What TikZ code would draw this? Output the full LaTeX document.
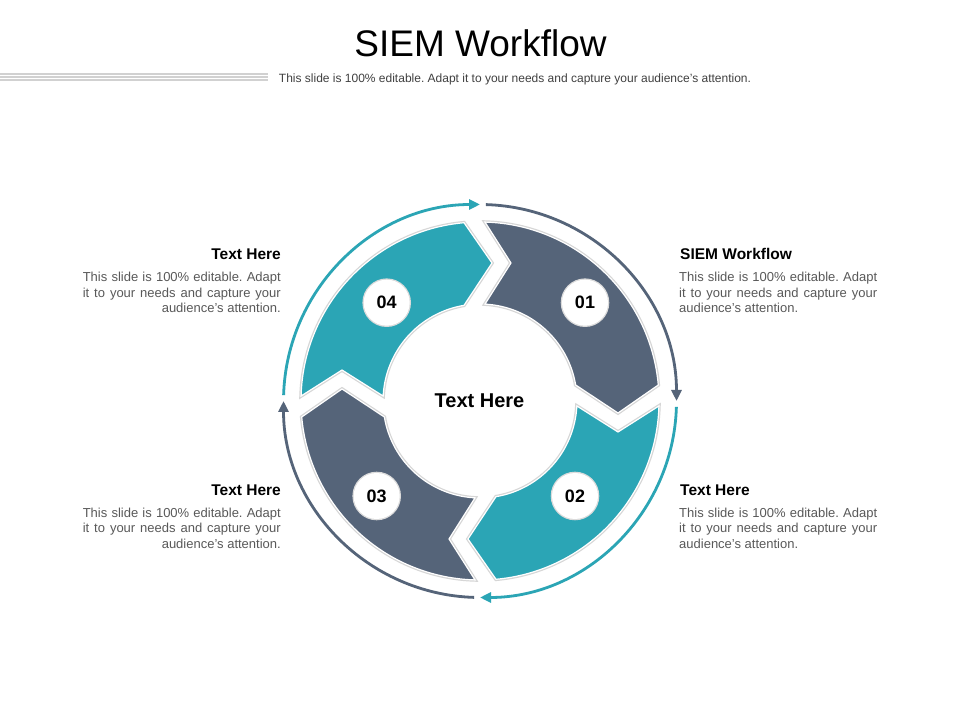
\documentclass[tikz,border=0pt]{standalone}
\usepackage{fontspec}
\setmainfont{Liberation Sans}
\usepackage{graphicx}
\usetikzlibrary{arrows.meta}
\definecolor{tealA}{HTML}{2BA5B5}
\definecolor{slateA}{HTML}{556479}
\definecolor{bodygray}{HTML}{595959}
\definecolor{subgray}{HTML}{404040}
\newcommand{\jl}[1]{\hbox to 198pt{#1}}
\newcommand{\segpath}{(178.40:179) arc[start angle=178.40, end angle=95.13, radius=179] -- (12,138) -- (99.49:97) arc[start angle=99.49, end angle=177.05, radius=97] -- (-138,31) -- cycle}
\frenchspacing
\begin{document}
\begin{tikzpicture}[x=1pt,y=1pt,
  seg/.style={line width=1.2pt, draw=white, line join=miter},
  seghalo/.style={line width=3.6pt, draw=black!16, line join=miter},
  ringarrow/.style={line width=2.8pt, -{Triangle[length=11pt,width=10pt]}},
  numcircle/.style={circle, fill=white, minimum size=46pt, inner sep=0pt, font=\fontsize{18}{20}\selectfont\bfseries, text=black},
  body/.style={inner sep=0pt, text=bodygray, font=\fontsize{13}{15.7}\selectfont},
  head/.style={inner sep=0pt, text=black, font=\fontsize{15.5}{18}\selectfont\bfseries},
  deco/.style={draw=black!18, line width=1.5pt}
]
\useasboundingbox (0,0) rectangle (960,720);
\fill[white] (0,0) rectangle (960,720);

% title
\node (title) [anchor=base, inner sep=0pt, text=black, font=\fontsize{37}{44}\selectfont] at (480.5,663.5) {SIEM Workflow};
\node (subtitle) [anchor=base, inner sep=0pt, text=subgray, font=\fontsize{12}{14}\selectfont] at (515,637.5) {This slide is 100\% editable. Adapt it to your needs and capture your audience's attention.};
\coordinate (l1a) at (0,646); \coordinate (l1b) at (268,646);
\coordinate (l2a) at (0,643); \coordinate (l2b) at (268,643);
\coordinate (l3a) at (0,640); \coordinate (l3b) at (268,640);
\draw[deco] (l1a) -- (l1b);
\draw[deco] (l2a) -- (l2b);
\draw[deco] (l3a) -- (l3b);

% ring
\begin{scope}[shift={(480,319)}]
  \foreach \r in {0,-90,-180,-270} {
    \draw[seghalo, rotate=\r] \segpath;
  }
  \foreach \r/\col in {0/tealA,-90/slateA,-180/tealA,-270/slateA} {
    \path[seg, fill=\col, rotate=\r] \segpath;
  }
  \draw[ringarrow, slateA] (88.3:196.5) arc[start angle=88.3, end angle=0, radius=196.5];
  \draw[ringarrow, tealA] (-1.7:196.5) arc[start angle=-1.7, end angle=-90, radius=196.5];
  \draw[ringarrow, slateA] (-91.7:196.5) arc[start angle=-91.7, end angle=-180, radius=196.5];
  \draw[ringarrow, tealA] (178.3:196.5) arc[start angle=178.3, end angle=90, radius=196.5];
\end{scope}

\node (center) [inner sep=0pt, text=black, font=\fontsize{20}{24}\selectfont\bfseries] at (479.5,319.5) {Text Here};

% number circles
\fill[black!14] (386.7,417.3) circle (24.3);
\fill[black!14] (585,417.3) circle (24.3);
\fill[black!14] (575,224) circle (24.3);
\fill[black!14] (376.7,224) circle (24.3);
\node (n04) [numcircle] at (386.7,417.3) {04};
\node (n01) [numcircle] at (585,417.3) {01};
\node (n02) [numcircle] at (575,224) {02};
\node (n03) [numcircle] at (376.7,224) {03};

% text blocks
\node (h4) [head, anchor=base east] at (281,460.5) {Text Here};
\node (b4) [body, anchor=base east] at (281,407) {\vbox{\jl{This slide is 100\% editable. Adapt}\jl{it to your needs and capture your}\hbox to 198pt{\hfill audience's attention.}}};

\node (h1) [head, anchor=base west] at (680,460.5) {SIEM Workflow};
\node (b1) [body, anchor=base west] at (679,407) {\vbox{\jl{This slide is 100\% editable. Adapt}\jl{it to your needs and capture your}\hbox to 198pt{audience's attention.\hfill}}};

\node (h3) [head, anchor=base east] at (281,224.5) {Text Here};
\node (b3) [body, anchor=base east] at (281,171.5) {\vbox{\jl{This slide is 100\% editable. Adapt}\jl{it to your needs and capture your}\hbox to 198pt{\hfill audience's attention.}}};

\node (h2) [head, anchor=base west] at (680,224.5) {Text Here};
\node (b2) [body, anchor=base west] at (679,171.5) {\vbox{\jl{This slide is 100\% editable. Adapt}\jl{it to your needs and capture your}\hbox to 198pt{audience's attention.\hfill}}};
\end{tikzpicture}
\end{document}
